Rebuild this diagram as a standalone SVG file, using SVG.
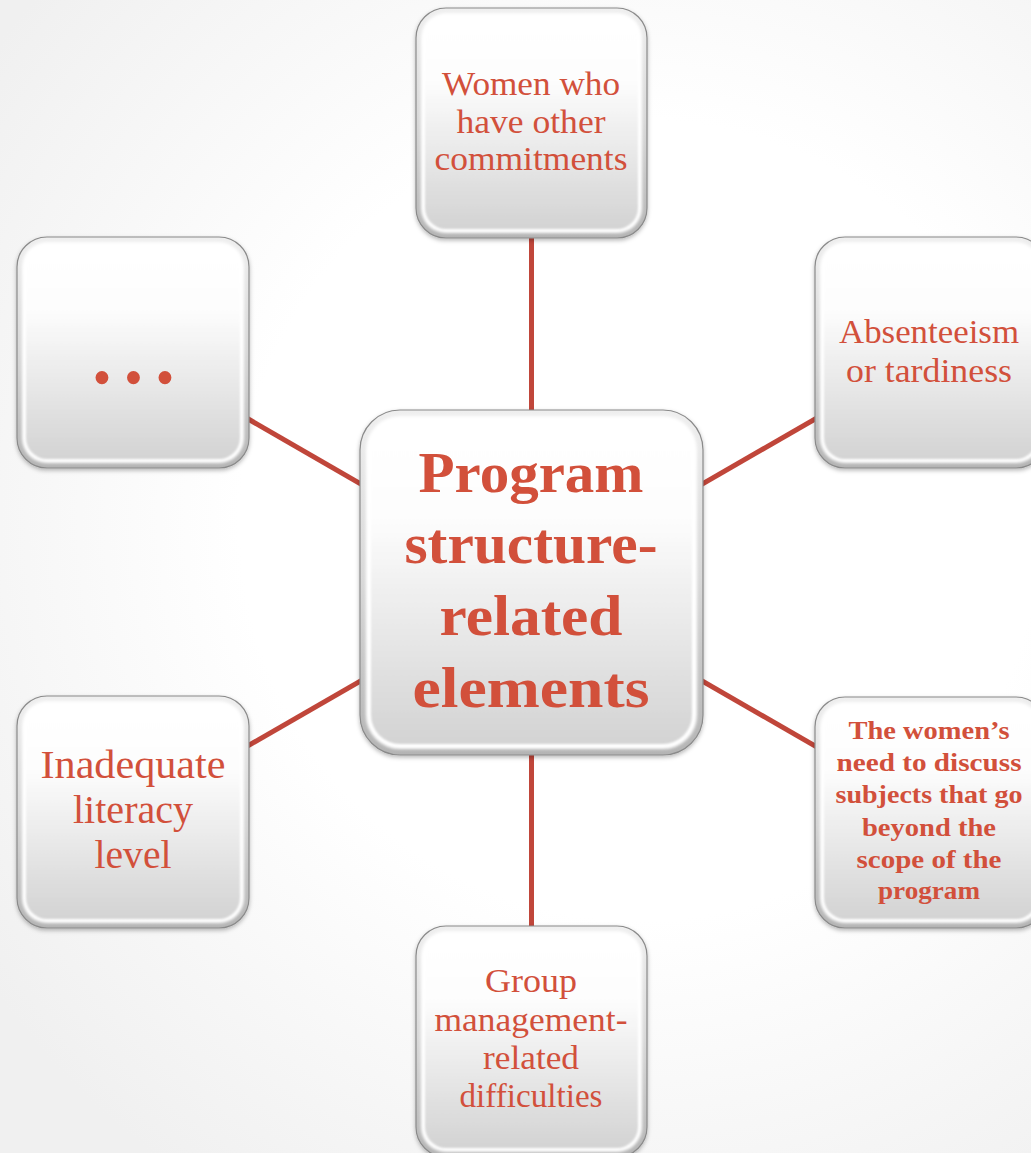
<svg xmlns="http://www.w3.org/2000/svg" width="1031" height="1153" viewBox="0 0 1031 1153">
  <defs>
    <radialGradient id="bg" cx="640" cy="520" r="800" gradientUnits="userSpaceOnUse">
      <stop offset="0.5" stop-color="#ffffff"/>
      <stop offset="1" stop-color="#f0f0f0"/>
    </radialGradient>
    <!-- outer bevel rim: light at top, darker grey at the bottom -->
    <linearGradient id="rim" x1="0" y1="0" x2="0" y2="1">
      <stop offset="0" stop-color="#efefef"/>
      <stop offset="0.5" stop-color="#d8d8d8"/>
      <stop offset="1" stop-color="#b4b4b4"/>
    </linearGradient>
    <!-- tile face: white on top fading to light grey -->
    <linearGradient id="face" x1="0" y1="0" x2="0" y2="1">
      <stop offset="0" stop-color="#ffffff"/>
      <stop offset="0.3" stop-color="#fdfdfd"/>
      <stop offset="1" stop-color="#d3d3d3"/>
    </linearGradient>
    <filter id="drop" x="-10%" y="-10%" width="120%" height="125%">
      <feDropShadow dx="0" dy="2" stdDeviation="2" flood-color="#000" flood-opacity="0.28"/>
    </filter>
    <filter id="soft" x="-10%" y="-10%" width="120%" height="120%">
      <feGaussianBlur stdDeviation="1.6"/>
    </filter>
    <filter id="soft1" x="-10%" y="-10%" width="120%" height="120%">
      <feGaussianBlur stdDeviation="0.9"/>
    </filter>
  </defs>
  <style>
    .shell { fill: url(#rim); stroke: #8a8a8a; stroke-width: 1.2; filter: url(#drop); }
    .hl { fill: #ffffff; filter: url(#soft); }
    .face { fill: url(#face); filter: url(#soft1); }
    .link { stroke: #c0463a; stroke-width: 5; fill: none; }
    .t { font-family: "Liberation Serif", "Times New Roman", serif; fill: #d2503b; text-anchor: middle; }
    .n { font-size: 33px; }
    .l { font-size: 40px; }
    .b { font-weight: bold; }
    .c { font-size: 56px; }
    .s { font-size: 26px; }
  </style>

  <rect width="1031" height="1153" fill="url(#bg)"/>

  <!-- spokes from the hub to each tile -->
  <g id="connectors">
    <line class="link" x1="531.5" y1="582.5" x2="531.5" y2="123"/>
    <line class="link" x1="531.5" y1="582.5" x2="133" y2="352.5"/>
    <line class="link" x1="531.5" y1="582.5" x2="930.5" y2="352.5"/>
    <line class="link" x1="531.5" y1="582.5" x2="133" y2="812"/>
    <line class="link" x1="531.5" y1="582.5" x2="930.5" y2="812.5"/>
    <line class="link" x1="531.5" y1="582.5" x2="531.5" y2="1041.5"/>
  </g>

  <g id="node-top">
    <rect class="shell" x="416" y="8" width="231" height="230" rx="30"/>
    <rect class="hl" x="421" y="13" width="221" height="220" rx="25"/>
    <rect class="face" x="425" y="17" width="213" height="212" rx="21"/>
    <text class="t n" x="531" y="95" textLength="178" lengthAdjust="spacingAndGlyphs">Women who</text>
    <text class="t n" x="531" y="132.5" textLength="149" lengthAdjust="spacingAndGlyphs">have other</text>
    <text class="t n" x="531" y="170" textLength="193" lengthAdjust="spacingAndGlyphs">commitments</text>
  </g>

  <g id="node-upper-left">
    <rect class="shell" x="17" y="237" width="232" height="231" rx="30"/>
    <rect class="hl" x="22" y="242" width="222" height="221" rx="25"/>
    <rect class="face" x="26" y="246" width="214" height="213" rx="21"/>
    <text class="t" x="133.5" y="396" font-size="54" textLength="82" lengthAdjust="spacing">• • •</text>
  </g>

  <g id="node-upper-right">
    <rect class="shell" x="815" y="237" width="231" height="231" rx="30"/>
    <rect class="hl" x="820" y="242" width="221" height="221" rx="25"/>
    <rect class="face" x="824" y="246" width="213" height="213" rx="21"/>
    <text class="t n" x="929" y="343" textLength="180" lengthAdjust="spacingAndGlyphs">Absenteeism</text>
    <text class="t n" x="929" y="382" textLength="166" lengthAdjust="spacingAndGlyphs">or tardiness</text>
  </g>

  <g id="node-center">
    <rect class="shell" x="360" y="410" width="343" height="345" rx="40"/>
    <rect class="hl" x="366" y="416" width="331" height="333" rx="34"/>
    <rect class="face" x="371" y="421" width="321" height="323" rx="29"/>
    <text class="t b c" x="531" y="492" textLength="225" lengthAdjust="spacingAndGlyphs">Program</text>
    <text class="t b c" x="531" y="563" textLength="253" lengthAdjust="spacingAndGlyphs">structure-</text>
    <text class="t b c" x="531" y="635" textLength="183" lengthAdjust="spacingAndGlyphs">related</text>
    <text class="t b c" x="531" y="707" textLength="237" lengthAdjust="spacingAndGlyphs">elements</text>
  </g>

  <g id="node-lower-left">
    <rect class="shell" x="17" y="696" width="232" height="232" rx="30"/>
    <rect class="hl" x="22" y="701" width="222" height="222" rx="25"/>
    <rect class="face" x="26" y="705" width="214" height="214" rx="21"/>
    <text class="t l" x="133" y="778" textLength="185" lengthAdjust="spacingAndGlyphs">Inadequate</text>
    <text class="t l" x="133" y="823" textLength="120" lengthAdjust="spacingAndGlyphs">literacy</text>
    <text class="t l" x="133" y="868" textLength="77" lengthAdjust="spacingAndGlyphs">level</text>
  </g>

  <g id="node-lower-right">
    <rect class="shell" x="815" y="697" width="231" height="231" rx="30"/>
    <rect class="hl" x="820" y="702" width="221" height="221" rx="25"/>
    <rect class="face" x="824" y="706" width="213" height="213" rx="21"/>
    <text class="t b s" x="929" y="739" textLength="161" lengthAdjust="spacingAndGlyphs">The women’s</text>
    <text class="t b s" x="929" y="771" textLength="185" lengthAdjust="spacingAndGlyphs">need to discuss</text>
    <text class="t b s" x="929" y="803" textLength="187" lengthAdjust="spacingAndGlyphs">subjects that go</text>
    <text class="t b s" x="929" y="836" textLength="134" lengthAdjust="spacingAndGlyphs">beyond the</text>
    <text class="t b s" x="929" y="868" textLength="145" lengthAdjust="spacingAndGlyphs">scope of the</text>
    <text class="t b s" x="929" y="899" textLength="102" lengthAdjust="spacingAndGlyphs">program</text>
  </g>

  <g id="node-bottom">
    <rect class="shell" x="416" y="926" width="231" height="231" rx="30"/>
    <rect class="hl" x="421" y="931" width="221" height="221" rx="25"/>
    <rect class="face" x="425" y="935" width="213" height="213" rx="21"/>
    <text class="t n" x="531" y="992" textLength="92" lengthAdjust="spacingAndGlyphs">Group</text>
    <text class="t n" x="531" y="1031" textLength="193" lengthAdjust="spacingAndGlyphs">management-</text>
    <text class="t n" x="531" y="1069" textLength="96" lengthAdjust="spacingAndGlyphs">related</text>
    <text class="t n" x="531" y="1107" textLength="143" lengthAdjust="spacingAndGlyphs">difficulties</text>
  </g>
</svg>
